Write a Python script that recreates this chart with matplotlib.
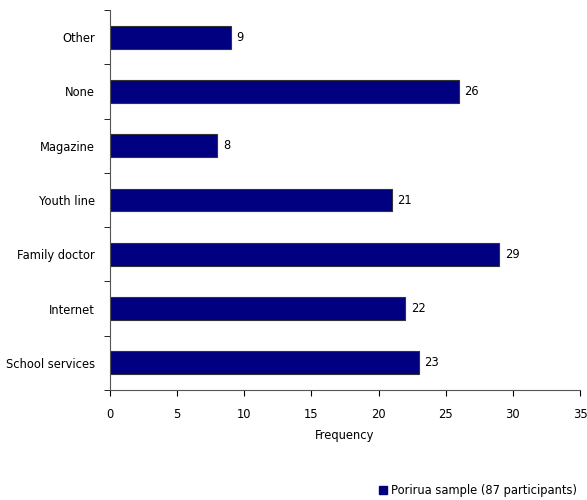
import matplotlib
matplotlib.use("Agg")
import matplotlib.pyplot as plt
from matplotlib.patches import Patch

# categories listed bottom to top
categories = ["School services", "Internet", "Family doctor", "Youth line",
              "Magazine", "None", "Other"]
frequency = [23, 22, 29, 21, 8, 26, 9]
x_ticks = [0, 5, 10, 15, 20, 25, 30, 35]
series_label = "Porirua sample (87 participants)"

BAR_COLOR = "#000080"

plt.rcParams["font.family"] = ["DejaVu Sans"]
plt.rcParams["font.size"] = 8.3

fig = plt.figure(figsize=(5.87, 5.0), dpi=100)
ax = fig.add_axes([0.1874, 0.22, 0.8006, 0.76])

pos = list(range(len(categories)))
ax.barh(pos, frequency, height=0.42, color=BAR_COLOR, edgecolor="#333333",
        linewidth=0.8)
for p, v in zip(pos, frequency):
    ax.text(v + 0.4, p, str(v), va="center", ha="left")

ax.set_ylim(-0.5, len(categories) - 0.5)
ax.set_xlim(0, 35)
ax.set_xticks(x_ticks)
ax.set_yticks(pos)
ax.set_yticklabels(categories)
ax.set_yticks([p - 0.5 for p in pos] + [len(categories) - 0.5], minor=True)
ax.tick_params(axis="y", which="major", length=0, pad=11)
ax.tick_params(axis="y", which="minor", length=4, direction="out")
ax.tick_params(axis="x", length=4, direction="out", pad=9)

for side in ("top", "right"):
    ax.spines[side].set_visible(False)
ax.spines["left"].set_color("#555555")
ax.spines["bottom"].set_color("#555555")

ax.set_xlabel("Frequency", labelpad=6)

fig.legend(handles=[Patch(facecolor=BAR_COLOR, edgecolor=BAR_COLOR)],
           labels=[series_label], loc="lower right",
           bbox_to_anchor=(1.0, -0.014), frameon=False, handlelength=0.7,
           handleheight=0.7, handletextpad=0.3)

fig.savefig("out.png", dpi=100)
